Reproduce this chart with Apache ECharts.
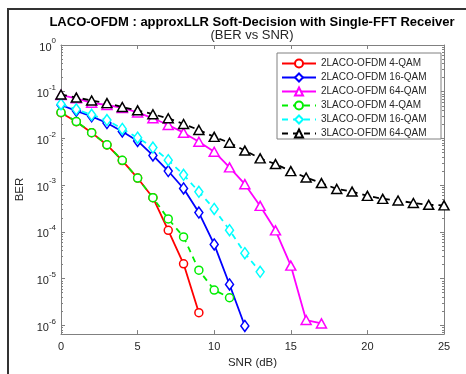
<!DOCTYPE html>
<html>
<head>
<meta charset="utf-8">
<script src="https://cdn.jsdelivr.net/npm/echarts@6/dist/echarts.min.js"></script>
<style>html,body{margin:0;padding:0;background:#fff;}#c{width:466px;height:374px;}</style>
</head>
<body>
<div id="c"></div>
<script>
const snr = [0,1,2,3,4,5,6,7,8,9,10,11,12,13,14,15,16,17,18,19,20,21,22,23,24,25];
const xTicks = [0,5,10,15,20,25];
const yTicks = [1e-6,1e-5,1e-4,1e-3,1e-2,1e-1,1];

const seriesNames = ['2LACO-OFDM 4-QAM','2LACO-OFDM 16-QAM','2LACO-OFDM 64-QAM','3LACO-OFDM 4-QAM','3LACO-OFDM 16-QAM','3LACO-OFDM 64-QAM'];
const ber2_4qam  = [0.0355,0.0228,0.0133,0.00727,0.00336,0.00142,5.4e-4,1.08e-4,2.08e-5,1.87e-6];
const ber2_16qam = [0.052,0.039,0.0297,0.0214,0.0141,0.00885,0.00434,0.00201,8.5e-4,2.6e-4,5.4e-5,7.5e-6,9.7e-7];
const ber2_64qam = [0.085,0.072,0.058,0.052,0.045,0.036,0.027,0.0194,0.0133,0.0085,0.0052,0.0024,0.00105,3.6e-4,1.08e-4,1.9e-5,1.3e-6,1.1e-6];
const ber3_4qam  = [0.036,0.023,0.0133,0.0073,0.0034,0.00142,5.4e-4,1.9e-4,7.8e-5,1.52e-5,5.7e-6,3.9e-6];
const ber3_16qam = [0.054,0.042,0.032,0.0248,0.016,0.0104,0.0064,0.00343,0.00167,7.2e-4,3.1e-4,1.09e-4,3.5e-5,1.4e-5];
const ber3_64qam = [0.087,0.075,0.065,0.057,0.047,0.040,0.033,0.027,0.0204,0.0152,0.0108,0.0081,0.0055,0.00375,0.00283,0.0020,0.00146,0.00111,8.3e-4,7.3e-4,5.9e-4,5.1e-4,4.7e-4,4.15e-4,3.8e-4,3.7e-4];

const FONT = '"Liberation Sans", Arial, Helvetica, sans-serif';
const AX = '#808080';
const TXT = '#262626';

function pairs(arr){ return arr.map((v,i)=>[snr[i], v]); }

const specs = [
  {data: ber2_4qam,  color:'#ff0000', symbol:'circle',  size:8,  dash:'solid'},
  {data: ber2_16qam, color:'#0000ff', symbol:'diamond', size:[8,11], dash:'solid'},
  {data: ber2_64qam, color:'#ff00ff', symbol:'triangle',size:[10,9], dash:'solid'},
  {data: ber3_4qam,  color:'#00ee00', symbol:'circle',  size:8,  dash:[6,5]},
  {data: ber3_16qam, color:'#00ffff', symbol:'diamond', size:[8,11], dash:[6,5]},
  {data: ber3_64qam, color:'#000000', symbol:'triangle',size:[10,9], dash:[6,5]}
];

function isPow10(v){ const l = Math.log10(v); return Math.abs(l - Math.round(l)) < 1e-6; }

const series = specs.map((s,i)=>({
  name: seriesNames[i],
  type: 'line',
  data: pairs(s.data),
  symbol: s.symbol,
  symbolSize: s.size,
  showAllSymbol: true,
  lineStyle: {color: s.color, width: 1.8, type: s.dash},
  itemStyle: {color: '#fff', borderColor: s.color, borderWidth: 1.5},
  emphasis: {disabled: true},
  animation: false,
  z: 2 + i
}));

const chart = echarts.init(document.getElementById('c'), null, {renderer:'canvas'});
chart.setOption({
  animation: false,
  backgroundColor: '#fff',
  title: [
    {text: 'LACO-OFDM : approxLLR Soft-Decision with Single-FFT Receiver', left: 247, top: 11, textAlign: 'center',
     textStyle: {fontFamily: FONT, fontSize: 13, fontWeight: 'bold', color: '#000'}},
    {text: '(BER vs SNR)', left: 247, top: 24, textAlign: 'center',
     textStyle: {fontFamily: FONT, fontSize: 13, fontWeight: 'normal', color: TXT}}
  ],
  grid: {left: 61, right: 22, top: 45, bottom: 39, containLabel: false},
  legend: {
    show: true,
    z: 20,
    orient: 'vertical',
    left: 281, top: 58.5,
    itemWidth: 34, itemHeight: 10, itemGap: 4,
    padding: [0,0,0,0],
    textStyle: {fontFamily: FONT, fontSize: 10, color: TXT, padding: [0,0,0,0]},
    data: seriesNames
  },
  xAxis: [
    {type: 'value', min: 0, max: 25, interval: 5,
     axisLine: {show: true, onZero: false, lineStyle: {color: AX, width: 1}},
     axisTick: {show: true, inside: true, length: 4, lineStyle: {color: AX}},
     axisLabel: {fontFamily: FONT, fontSize: 11, color: TXT, margin: 7},
     splitLine: {show: false},
     name: 'SNR (dB)', nameLocation: 'middle', nameGap: 21,
     nameTextStyle: {fontFamily: FONT, fontSize: 11.5, color: TXT}},
    {type: 'value', min: 0, max: 25, interval: 5, position: 'top',
     axisLine: {show: true, onZero: false, lineStyle: {color: AX, width: 1}},
     axisTick: {show: true, inside: true, length: 4, lineStyle: {color: AX}},
     axisLabel: {show: false}, splitLine: {show: false}}
  ],
  yAxis: [
    {type: 'log', logBase: 10, min: 6.5e-7, max: 1, splitNumber: 6,
     axisLine: {show: true, onZero: false, lineStyle: {color: AX, width: 1}},
     axisTick: {show: true, inside: true, length: 4, lineStyle: {color: AX}},
     minorTick: {show: true, splitNumber: 9, length: 2, lineStyle: {color: AX}},
     axisLabel: {fontFamily: FONT, color: TXT, margin: 5,
       formatter: function(v){ if(!isPow10(v)) return ''; const e = Math.round(Math.log10(v)); return '{b|10}{s|' + e + '}'; },
       rich: {b: {fontFamily: FONT, fontSize: 11, color: TXT, verticalAlign: 'bottom', lineHeight: 16},
              s: {fontFamily: FONT, fontSize: 8, color: TXT, verticalAlign: 'top', lineHeight: 16}}},
     splitLine: {show: false},
     name: 'BER', nameLocation: 'middle', nameGap: 32,
     nameTextStyle: {fontFamily: FONT, fontSize: 11.5, color: TXT}},
    {type: 'log', logBase: 10, min: 6.5e-7, max: 1, splitNumber: 6, position: 'right',
     axisLine: {show: true, onZero: false, lineStyle: {color: AX, width: 1}},
     axisTick: {show: true, inside: true, length: 4, lineStyle: {color: AX}},
     minorTick: {show: true, splitNumber: 9, length: 2, lineStyle: {color: AX}},
     axisLabel: {show: false}, splitLine: {show: false}}
  ],
  graphic: [
    {type: 'rect', shape: {x: 277, y: 53, width: 164, height: 86}, style: {fill: '#fff', stroke: '#808080', lineWidth: 1}, z: 15, silent: true},
    {type: 'line', shape: {x1: 7, y1: 9, x2: 466, y2: 9}, style: {stroke: '#333', lineWidth: 2}, z: 30},
    {type: 'line', shape: {x1: 8, y1: 9, x2: 8, y2: 374}, style: {stroke: '#333', lineWidth: 2}, z: 30}
  ],
  series: series
});
</script>
</body>
</html>
